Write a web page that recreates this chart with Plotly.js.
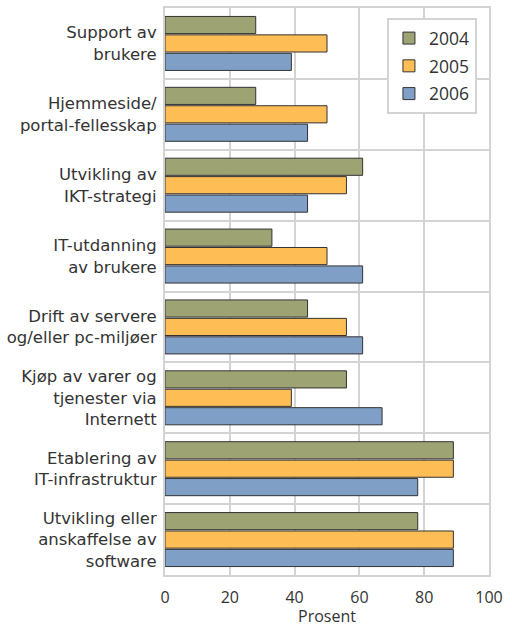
<!DOCTYPE html>
<html><head><meta charset="utf-8">
<script src="https://cdn.plot.ly/plotly-3.0.1.min.js"></script>
<style>html,body{margin:0;padding:0;background:#fff}#c{width:512px;height:627px}</style>
</head><body><div id="c"></div>
<script>
const categories = [
  "Support av<br>brukere",
  "Hjemmeside/<br>portal-fellesskap",
  "Utvikling av<br>IKT-strategi",
  "IT-utdanning<br>av brukere",
  "Drift av servere<br>og/eller pc-miljøer",
  "Kjøp av varer og<br>tjenester via<br>Internett",
  "Etablering av<br>IT-infrastruktur",
  "Utvikling eller<br>anskaffelse av<br>software"
];
const years = ["2004", "2005", "2006"];
const v2004 = [28, 28, 61, 33, 44, 56, 89, 78];
const v2005 = [50, 50, 56, 50, 56, 39, 89, 89];
const v2006 = [39, 44, 44, 61, 61, 67, 78, 89];
const colors = ["#9da372", "#ffbd55", "#7f9fc7"];
const series = [v2004, v2005, v2006];

const traces = series.map((vals, i) => ({
  type: "bar", orientation: "h",
  x: vals, y: categories, name: years[i], legendgroup: years[i],
  marker: {color: colors[i], line: {color: "#333", width: 1}},
  hoverinfo: "skip"
}));

const layout = {
  width: 512, height: 627,
  margin: {l: 165, r: 23, t: 8, b: 52},
  paper_bgcolor: "#fff", plot_bgcolor: "#fff",
  font: {family: "Open Sans, sans-serif", color: "#333", size: 16},
  barmode: "group", bargap: 0.22, bargroupgap: 0.07,
  showlegend: true,
  legend: {x: 0.685, y: 0.982, xanchor: "left", yanchor: "top",
    bgcolor: "#fff", bordercolor: "#d3d3d3", borderwidth: 2,
    font: {size: 17.5, color: "#333"}, traceorder: "grouped", tracegroupgap: 2},
  xaxis: {range: [0, 100], dtick: 20, tick0: 0, showgrid: true, gridcolor: "#d3d3d3", gridwidth: 2,
    showline: true, linecolor: "#d3d3d3", linewidth: 2, mirror: true, zeroline: false,
    ticks: "", ticklabelstandoff: 7, tickfont: {size: 16, color: "#333"},
    title: {text: "Prosent", font: {size: 16, color: "#333"}, standoff: 2}},
  yaxis: {type: "category", autorange: "reversed", tickson: "boundaries", showgrid: true,
    gridcolor: "#d3d3d3", gridwidth: 2, showline: true, linecolor: "#d3d3d3", linewidth: 2,
    mirror: true, ticks: "", ticklen: 0, ticklabelstandoff: 3,
    tickfont: {family: "DejaVu Sans, sans-serif", size: 16.5, color: "#333"}}
};
Plotly.newPlot("c", traces, layout, {staticPlot: true});
</script></body></html>
